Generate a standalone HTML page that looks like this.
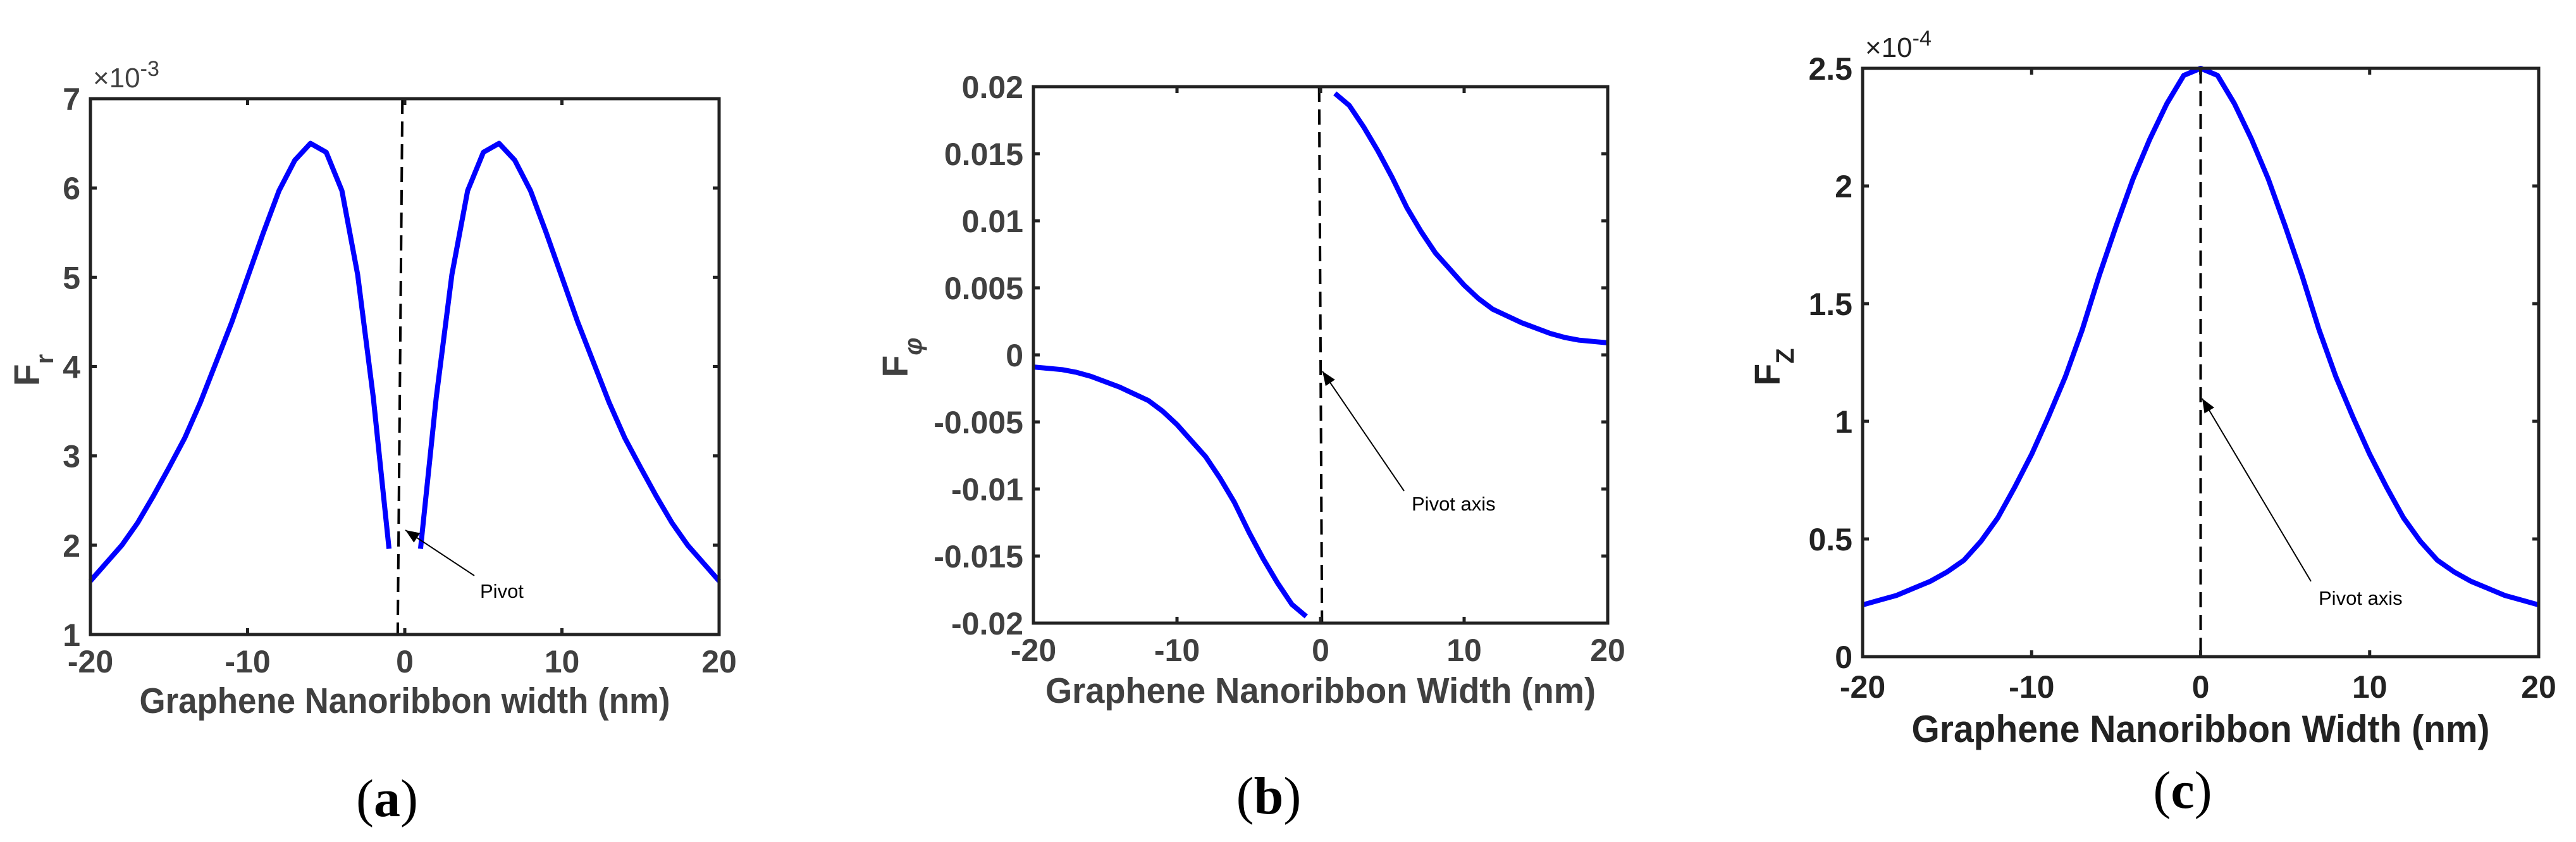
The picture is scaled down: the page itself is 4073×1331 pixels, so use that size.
<!DOCTYPE html>
<html><head><meta charset="utf-8"><style>
html,body{margin:0;padding:0;background:#fff;}
svg{display:block;}
.sans{font-family:"Liberation Sans",Arial,sans-serif;}
.serif{font-family:"Liberation Serif",serif;}
</style></head><body>
<svg id="fig" width="4073" height="1331" viewBox="0 0 4073 1331" xmlns="http://www.w3.org/2000/svg"></svg>
<script>
// ---- Panel (a) data: F_r (x1e-3) ----
const aXLeft = [-20,-19,-18,-17,-16,-15,-14,-13,-12,-11,-10,-9,-8,-7,-6,-5,-4,-3,-2,-1];
const aYLeft = [1.6,1.8,2.0,2.25,2.55,2.87,3.2,3.6,4.05,4.5,5.0,5.5,5.97,6.31,6.5,6.4,5.97,5.03,3.65,1.96];
const aXRight = [1,2,3,4,5,6,7,8,9,10,11,12,13,14,15,16,17,18,19,20];
const aYRight = [1.96,3.65,5.03,5.97,6.4,6.5,6.31,5.97,5.5,5.0,4.5,4.05,3.6,3.2,2.87,2.55,2.25,2.0,1.8,1.6];
const aYTicks = [1,2,3,4,5,6,7];
// ---- Panel (b) data: F_phi ----
const bXRight = [1,2,3,4,5,6,7,8,9,10,11,12,13,14,15,16,17,18,19,20];
const bYRight = [0.0195,0.0186,0.017,0.0152,0.0132,0.011,0.0092,0.0076,0.0064,0.0052,0.0042,0.0034,0.0029,0.0024,0.002,0.0016,0.0013,0.0011,0.001,0.0009];
const bXLeft = [-20,-19,-18,-17,-16,-15,-14,-13,-12,-11,-10,-9,-8,-7,-6,-5,-4,-3,-2,-1];
const bYLeft = [-0.0009,-0.001,-0.0011,-0.0013,-0.0016,-0.002,-0.0024,-0.0029,-0.0034,-0.0042,-0.0052,-0.0064,-0.0076,-0.0092,-0.011,-0.0132,-0.0152,-0.017,-0.0186,-0.0195];
const bYTicks = [-0.02,-0.015,-0.01,-0.005,0,0.005,0.01,0.015,0.02];
const bYTickLabels = ["-0.02","-0.015","-0.01","-0.005","0","0.005","0.01","0.015","0.02"];
// ---- Panel (c) data: F_Z (x1e-4) ----
const cX = [-20,-19,-18,-17,-16,-15,-14,-13,-12,-11,-10,-9,-8,-7,-6,-5,-4,-3,-2,-1,0,1,2,3,4,5,6,7,8,9,10,11,12,13,14,15,16,17,18,19,20];
const cY = [0.22,0.24,0.26,0.29,0.32,0.36,0.41,0.49,0.59,0.72,0.86,1.02,1.19,1.39,1.62,1.83,2.03,2.2,2.35,2.47,2.5,2.47,2.35,2.2,2.03,1.83,1.62,1.39,1.19,1.02,0.86,0.72,0.59,0.49,0.41,0.36,0.32,0.29,0.26,0.24,0.22];
const cYTicks = [0,0.5,1,1.5,2,2.5];
const cYTickLabels = ["0","0.5","1","1.5","2","2.5"];
const xTicks = [-20,-10,0,10,20];

const NS="http://www.w3.org/2000/svg";
const svg=document.getElementById('fig');
function mk(tag,attrs,parent){const e=document.createElementNS(NS,tag);for(const k in attrs)e.setAttribute(k,attrs[k]);(parent||svg).appendChild(e);return e;}

function panel(cfg){
  const g=mk('g',{});
  
  
  const sx=v=>cfg.L+(v-(-20))/40*(cfg.R-cfg.L);
  const sy=v=>cfg.B-(v-cfg.ymin)/(cfg.ymax-cfg.ymin)*(cfg.B-cfg.T);
  cfg.series.forEach((s,i)=>{
    const d=s.x.map((x,j)=>(j?'L':'M')+sx(x).toFixed(1)+' '+sy(s.y[j]).toFixed(1)).join(' ');
    const p=mk('path',{d:d,fill:'none',stroke:'#0000ff','stroke-width':8,'stroke-linejoin':'round'},g);
    
    
  });
  const dl=mk('line',{x1:sx(cfg.dashTop),y1:cfg.T,x2:sx(cfg.dashBot),y2:cfg.B,stroke:'#000','stroke-width':4,'stroke-dasharray':'24 12'},g);
  
  
  const box=mk('rect',{x:cfg.L,y:cfg.T,width:cfg.R-cfg.L,height:cfg.B-cfg.T,fill:'none',stroke:'#222','stroke-width':5},g);
  
  
  xTicks.forEach(t=>{
    const x=sx(t);
    mk('line',{x1:x,y1:cfg.B,x2:x,y2:cfg.B-10,stroke:'#222','stroke-width':5},g);
    mk('line',{x1:x,y1:cfg.T,x2:x,y2:cfg.T+10,stroke:'#222','stroke-width':5},g);
    const tl=mk('text',{class:'sans',x:x,y:cfg.B+cfg.xTickDy,'text-anchor':'middle','font-size':50,'font-weight':'bold',fill:cfg.col},g);
    tl.textContent=String(t);
    
    
  });
  cfg.yTicks.forEach((t,i)=>{
    const y=sy(t);
    mk('line',{x1:cfg.L,y1:y,x2:cfg.L+10,y2:y,stroke:'#222','stroke-width':5},g);
    mk('line',{x1:cfg.R,y1:y,x2:cfg.R-10,y2:y,stroke:'#222','stroke-width':5},g);
    const tl=mk('text',{class:'sans',x:cfg.L-16,y:y+18,'text-anchor':'end','font-size':50,'font-weight':'bold',fill:cfg.col},g);
    tl.textContent=cfg.yLabels[i];
    
    
  });
  const xl=mk('text',{class:'sans',x:(cfg.L+cfg.R)/2,y:cfg.B+cfg.xlabDy,'text-anchor':'middle','font-size':cfg.xlabFs,'font-weight':'bold',fill:cfg.col,textLength:cfg.xlabLen,lengthAdjust:'spacingAndGlyphs'},g);
  xl.textContent=cfg.xlab;
  
  
  const yl=mk('text',{class:'sans',transform:`translate(${cfg.ylabX},${cfg.ylabY}) rotate(-90)`,'text-anchor':'middle','font-size':57,'font-weight':'bold',fill:cfg.col},g);
  
  
  const f=mk('tspan',{},yl);f.textContent='F';
  const sb=mk('tspan',{dy:22,'font-size':40,'font-style':cfg.subItalic?'italic':'normal'},yl);sb.textContent=cfg.sub;
  if(cfg.exp){
    const ex=mk('text',{class:'sans',x:cfg.L+4,y:cfg.T-18,'font-size':44,fill:cfg.col},g);
    
    
    const a=mk('tspan',{},ex);a.textContent='×10';
    const b=mk('tspan',{dy:-18,'font-size':34},ex);b.textContent=cfg.exp;
  }
  const ar=cfg.arrow;
  const an=mk('g',{},g);
  
  
  mk('line',{x1:ar.x1,y1:ar.y1,x2:ar.x2,y2:ar.y2,stroke:'#000','stroke-width':2},an);
  const ang=Math.atan2(ar.y2-ar.y1,ar.x2-ar.x1);
  const hl=22,hw=9;
  const bx=ar.x2-hl*Math.cos(ang),by=ar.y2-hl*Math.sin(ang);
  const px=-Math.sin(ang)*hw,py=Math.cos(ang)*hw;
  mk('polygon',{points:`${ar.x2},${ar.y2} ${bx+px},${by+py} ${bx-px},${by-py}`,fill:'#000'},an);
  const at=mk('text',{class:'sans',x:ar.tx,y:ar.ty,'font-size':31,fill:'#000'},an);
  at.textContent=ar.text;
  const pl=mk('text',{class:'serif',x:cfg.plX,y:cfg.plY,'text-anchor':'middle','font-size':84,fill:'#000'},g);
  
  
  const p1=mk('tspan',{},pl);p1.textContent='(';
  const p2=mk('tspan',{'font-weight':'bold'},pl);p2.textContent=cfg.letter;
  const p3=mk('tspan',{},pl);p3.textContent=')';
}

panel({name:'panel-a-chart',L:143,R:1137,T:156,B:1003,ymin:1,ymax:7,
  series:[{x:aXLeft,y:aYLeft},{x:aXRight,y:aYRight}],
  yTicks:aYTicks,yLabels:aYTicks.map(String),col:'#404040',xTickDy:60,xlabDy:124,xlabFs:57,xlabLen:839,
  xlab:'Graphene Nanoribbon width (nm)',ylabX:62,ylabY:585,sub:'r',subItalic:false,exp:'-3',
  dashTop:-0.15,dashBot:-0.45,
  arrow:{x1:750,y1:910,x2:641,y2:838,tx:759,ty:945,text:'Pivot'},
  plX:612,plY:1290,letter:'a'});
panel({name:'panel-b-chart',L:1634,R:2542,T:137,B:985,ymin:-0.02,ymax:0.02,
  series:[{x:bXLeft,y:bYLeft},{x:bXRight,y:bYRight}],
  yTicks:bYTicks,yLabels:bYTickLabels,col:'#404040',xTickDy:60,xlabDy:126,xlabFs:57,xlabLen:870,
  xlab:'Graphene Nanoribbon Width (nm)',ylabX:1435,ylabY:565,sub:'φ',subItalic:true,exp:null,
  dashTop:-0.1,dashBot:0.1,
  arrow:{x1:2220,y1:776,x2:2091,y2:587,tx:2232,ty:807,text:'Pivot axis'},
  plX:2006,plY:1286,letter:'b'});
panel({name:'panel-c-chart',L:2945,R:4014,T:108,B:1038,ymin:0,ymax:2.5,
  series:[{x:cX,y:cY}],
  yTicks:cYTicks,yLabels:cYTickLabels,col:'#222',xTickDy:65,xlabDy:135,xlabFs:60,xlabLen:914,
  xlab:'Graphene Nanoribbon Width (nm)',ylabX:2814,ylabY:580,sub:'Z',subItalic:false,exp:'-4',
  dashTop:0,dashBot:0,
  arrow:{x1:3654,y1:919,x2:3482,y2:630,tx:3666,ty:956,text:'Pivot axis'},
  plX:3451,plY:1277,letter:'c'});
</script>
</body></html>
